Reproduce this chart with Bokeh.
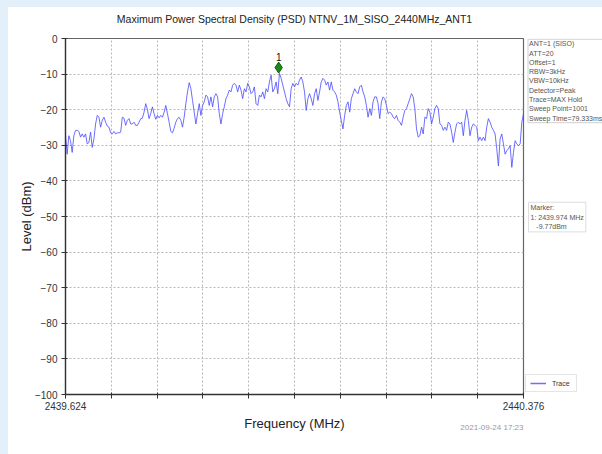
import numpy as np
from bokeh.plotting import figure
from bokeh.layouts import row
from bokeh.models import (Range1d, FixedTicker, Label, Legend, LegendItem,
                          ColumnDataSource, Title)
from bokeh.transform import dodge
from bokeh.embed import file_html
from bokeh.resources import INLINE

# ---------------- data ----------------
TITLE = "Maximum Power Spectral Density (PSD) NTNV_1M_SISO_2440MHz_ANT1"
F_START = 2439.624
F_STOP = 2440.376
X_LABEL = "Frequency (MHz)"
Y_LABEL = "Level (dBm)"
y_ticks = [0, -10, -20, -30, -40, -50, -60, -70, -80, -90, -100]

# trace levels (dBm), read across the sweep from left to right
level = [
    -27.3, -32.5, -27.3, -28.7, -32.0, -27.3, -25.8, -25.8, -26.1, -27.7,
    -26.8, -27.7, -26.8, -29.6, -29.2, -26.3, -30.6, -28.2, -24.0, -21.6,
    -22.1, -24.9, -23.0, -22.1, -23.5, -24.6, -24.9, -26.5, -26.8, -26.1,
    -26.8, -26.5, -26.5, -26.3, -22.1, -22.4, -24.4, -23.0, -22.5, -24.0,
    -24.0, -23.5, -24.4, -24.4, -23.5, -22.5, -22.4, -20.7, -18.3, -19.9,
    -22.5, -21.1, -19.2, -21.1, -22.7, -21.6, -22.3, -21.6, -22.1, -20.7,
    -18.8, -21.1, -23.5, -26.1, -26.5, -25.2,
    -23.5, -22.5, -22.1, -23.0, -24.9, -22.1, -18.3, -15.0, -12.4, -14.1,
    -17.4, -20.7, -24.0, -21.1, -18.3, -21.6, -18.8, -17.8, -15.9, -16.4,
    -18.8, -16.4, -19.2, -16.4, -15.5, -16.4, -21.1, -24.0, -21.1, -19.2,
    -16.9, -15.9, -14.5, -15.0, -13.1, -12.6, -13.1, -15.0, -13.1, -14.5,
    -16.9, -14.1, -15.0, -12.6, -13.6, -15.5, -15.0, -13.6, -18.3, -18.8,
    -15.9, -16.4, -15.0, -16.9, -14.1, -15.0, -12.2, -10.3, -15.0, -14.1,
    -12.2, -15.5, -9.77, -11.2, -13.1, -15.0, -16.9, -18.3, -19.2,
    -14.1, -12.6, -13.6, -12.6, -13.1, -11.7, -10.8, -12.2, -15.0, -20.2,
    -16.9, -15.5, -16.9, -18.8, -15.5, -14.1, -17.4, -15.0, -12.2, -11.2,
    -11.7, -13.1, -12.2, -14.5, -12.2, -14.5, -15.0, -15.9, -17.8, -20.7,
    -23.0, -25.4, -21.6, -18.8, -17.8, -20.7, -16.9, -15.5, -14.1, -15.0,
    -15.5, -13.6, -13.1, -15.0, -16.4, -18.8, -22.1, -19.7, -21.6, -17.8,
    -16.4, -16.4, -18.3, -22.5, -17.8, -16.4, -16.9, -18.8, -21.1, -20.7,
    -21.1, -22.1, -22.5, -21.6, -23.0, -23.5, -24.4, -22.1, -20.2,
    -19.7, -18.3, -16.9, -15.5, -16.4, -19.7, -25.4, -27.7, -27.3, -24.9,
    -26.8, -22.1, -22.5, -19.7, -20.7, -24.0, -22.1, -19.7, -18.8, -19.7,
    -24.0, -24.4, -25.8, -24.9, -25.8, -23.5, -24.0, -26.3, -29.2, -26.3,
    -24.0, -23.5, -24.0, -23.5, -27.3, -23.0, -20.2, -23.0, -27.3, -24.9,
    -24.0, -24.4, -24.9, -28.7, -27.7, -28.7, -27.7, -28.7, -24.9, -22.5,
    -23.5, -24.9, -25.8, -26.8, -31.0, -35.8, -28.2, -26.8, -29.6, -32.5,
    -31.5, -31.0, -30.1, -36.2, -32.0, -28.7, -29.6, -30.1, -29.6, -23.5,
    -21.1,
]
SWEEP_POINTS = len(level)
freq = np.linspace(F_START, F_STOP, SWEEP_POINTS)

marker_freq = [2439.974]
marker_level = [-9.77]
marker_name = ["1"]

settings_text = ["ANT=1 (SISO)", "ATT=20", "Offset=1", "RBW=3kHz", "VBW=10kHz",
                 "Detector=Peak", "Trace=MAX Hold", "Sweep Point=1001",
                 "Sweep Time=79.333ms"]
marker_text = ["Marker:", "1: 2439.974 MHz", "\u00a0\u00a0\u00a0-9.77dBm"]
timestamp = "2021-09-24 17:23"
legend_label = "Trace"

# ---------------- main figure ----------------
FONT = "Liberation Sans"
TRACE_COLOR = "#4a4aff"
TOP, BOTTOM = 30, 52
MAIN_W, SIDE_W = 594, 77
p = figure(width=MAIN_W, height=438, output_backend="svg", toolbar_location=None,
           x_range=Range1d(F_START, F_STOP), y_range=Range1d(-100, 0),
           min_border_left=57, min_border_right=SIDE_W + 2, min_border_top=TOP,
           min_border_bottom=BOTTOM)
p.border_fill_color = "white"
p.background_fill_color = "white"
p.outline_line_color = "#666666"
p.outline_line_width = 1.2

p.title.text = TITLE + "\n"
p.title.align = "center"
p.title.text_font = FONT
p.title.text_font_size = "10.5px"
p.title.text_font_style = "normal"
p.title.text_color = "#222222"
p.title.standoff = 4

x_ticks = [round(float(t), 4) for t in np.linspace(F_START, F_STOP, 11)]
overrides = {t: "" for t in x_ticks}
overrides[x_ticks[0]] = f"{F_START:.3f}"
overrides[x_ticks[-1]] = f"{F_STOP:.3f}"
p.xaxis.ticker = FixedTicker(ticks=x_ticks)
p.xaxis.major_label_overrides = overrides
p.yaxis.ticker = FixedTicker(ticks=y_ticks)

for ax in (p.xaxis[0], p.yaxis[0]):
    ax.axis_line_color = "#333333"
    ax.axis_line_width = 1.3
    ax.major_tick_line_color = "#333333"
    ax.major_tick_in = 2
    ax.major_tick_out = 4
    ax.minor_tick_line_color = None
    ax.major_label_text_font = FONT
    ax.major_label_text_font_size = "10px"
    ax.major_label_text_color = "#333333"
    ax.axis_label_text_font = FONT
    ax.axis_label_text_font_size = "13px"
    ax.axis_label_text_font_style = "normal"
    ax.axis_label_text_color = "#222222"

p.xaxis.axis_label = X_LABEL
p.yaxis.axis_label = Y_LABEL
p.xaxis.major_label_standoff = 3
p.xaxis.axis_label_standoff = 3
p.yaxis.major_label_standoff = 4
p.yaxis.axis_label_standoff = -2

for g in (p.xgrid[0], p.ygrid[0]):
    g.grid_line_color = "#b8b8b8"
    g.grid_line_dash = "2 2"
    g.grid_line_width = 1

src = ColumnDataSource(dict(freq=freq, level=level))
p.line("freq", "level", source=src, line_color=TRACE_COLOR, line_width=1, line_alpha=0.8)

msrc = ColumnDataSource(dict(freq=marker_freq, level=marker_level, name=marker_name))
p.scatter(x="freq", y=dodge("level", 1.6, range=p.y_range), source=msrc, marker="diamond",
          size=11, fill_color="#1a8a1a", line_color="#0d5e0d", line_width=1)
p.text(x="freq", y="level", text="name", source=msrc, text_align="center",
       text_baseline="middle", y_offset=-16, text_font_size="10px", text_color="#111111")

# timestamp, under the frame on the axis-label line
p.add_layout(Title(text=timestamp, align="right", vertical_align="top", text_font=FONT,
                   text_font_size="8px", text_font_style="normal", text_color="#9a9a9a",
                   standoff=-21), "below")

# ---------------- side panel over the right border (same y scale) ----------------
s = figure(width=SIDE_W, height=438, output_backend="svg", toolbar_location=None,
           x_range=Range1d(0, SIDE_W), y_range=p.y_range,
           x_axis_type=None, y_axis_type=None,
           min_border_left=0, min_border_right=0, min_border_top=TOP,
           min_border_bottom=BOTTOM, margin=(0, 0, 0, -SIDE_W))
s.outline_line_color = None
s.border_fill_color = None
s.background_fill_color = None

s.add_layout(Label(x=2.5, y=-0.2, text="\n".join(settings_text),
                   text_align="left", text_baseline="top", text_font=FONT,
                   text_font_size="7px", text_color="#555555", text_line_height=1.33,
                   border_line_color="#cfcfcf", border_line_width=1,
                   background_fill_color="white", padding=1))
s.add_layout(Label(x=3, y=-46.0, text="\n".join(marker_text),
                   text_align="left", text_baseline="top", text_font=FONT,
                   text_font_size="7px", text_color="#555555", text_line_height=1.33,
                   border_line_color="#dddddd", border_line_width=1,
                   background_fill_color="white", padding=2))

legend_line = s.line("freq", "level", source=src, line_color=TRACE_COLOR, line_width=1.5,
                     line_alpha=0.8)
legend = Legend(items=[LegendItem(label=legend_label, renderers=[legend_line])],
                location=(0, 2), margin=0, padding=4, spacing=0,
                glyph_width=16, glyph_height=8, label_height=8, label_standoff=6,
                label_text_font=FONT, label_text_font_size="7px",
                label_text_color="#333333", border_line_color="#cccccc",
                background_fill_color="white")
s.add_layout(legend)

layout = row(p, s, spacing=0)

html = file_html(layout, INLINE)
style = ('<style>body{margin:8px 0 8px 8px;background:linear-gradient(to right,#e4f0f9 8px,'
         'rgba(255,255,255,0) 8px),linear-gradient(to bottom,#e4f0f9 7px,#ffffff 7px);}</style>')
html = html.replace("</head>", style + "</head>", 1)
open("out.html", "w").write(html)
